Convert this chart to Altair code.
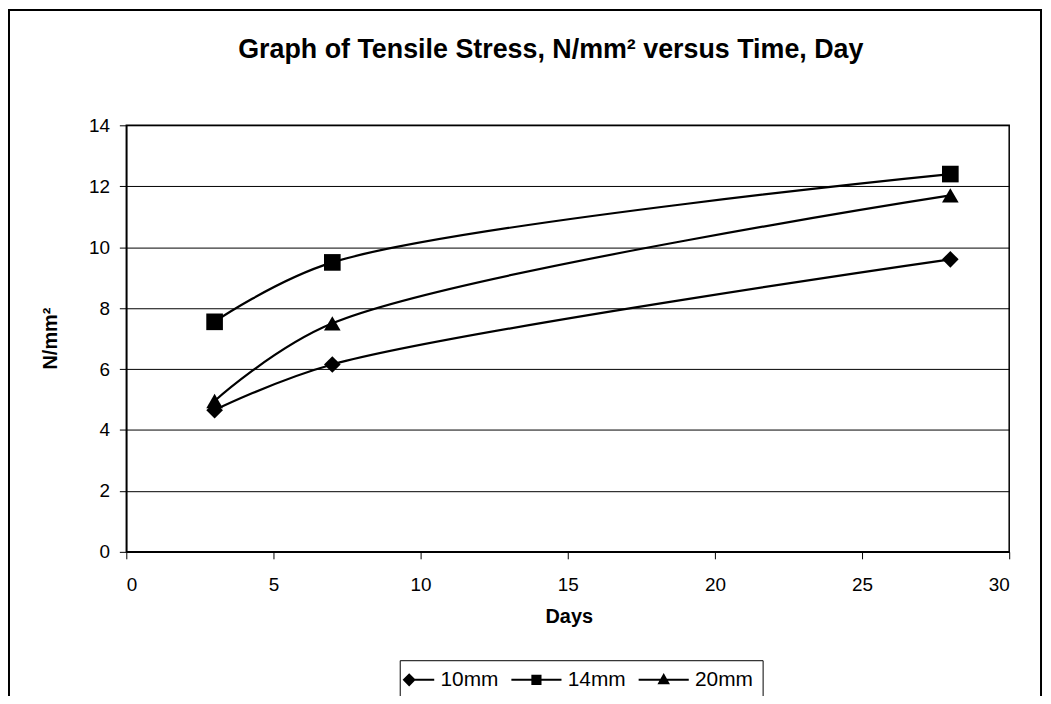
import altair as alt
import pandas as pd

days = [3, 7, 28]
series_names = ["10mm", "14mm", "20mm"]
s10 = [4.65, 6.15, 9.6]
s14 = [7.55, 9.5, 12.4]
s20 = [4.95, 7.5, 11.7]
x_ticks = [0, 5, 10, 15, 20, 25, 30]
y_ticks = [0, 2, 4, 6, 8, 10, 12, 14]

rows = []
for name, vals in zip(series_names, [s10, s14, s20]):
    for d, v in zip(days, vals):
        rows.append({"Days": d, "Stress": v, "Series": name})
df = pd.DataFrame(rows)

FONT = "Liberation Sans"

x_enc = alt.X("Days:Q", scale=alt.Scale(domain=[0, 30], nice=False),
              axis=alt.Axis(values=x_ticks, title="Days", grid=False,
                            titleX=445, titleY=71, titleBaseline="alphabetic",
                            titleFontSize=20,
                            labelPadding=17, tickSize=7))
y_enc = alt.Y("Stress:Q", scale=alt.Scale(domain=[0, 14], nice=False),
              axis=alt.Axis(values=y_ticks, title="N/mm²", grid=True,
                            titleX=-70, titleY=214, titleAngle=-90,
                            titleBaseline="alphabetic", titleAlign="center",
                            titleFontSize=20,
                            labelPadding=10, tickSize=7))

base = alt.Chart(df)

lines = base.mark_line(color="black", strokeWidth=2.2, interpolate="catmull-rom").encode(
    x=x_enc, y=y_enc, detail="Series:N")

points = base.mark_point(filled=True, color="black", opacity=1, size=280).encode(
    x=x_enc, y=y_enc,
    shape=alt.Shape("Series:N",
                    scale=alt.Scale(domain=series_names,
                                    range=["diamond", "square", "triangle-up"]),
                    legend=None))

# legend glyphs: a short line segment (thin filled bar) through the marker
legend_paths = [
    "M0,-0.17L4.2,-0.17L4.2,0.17L0,0.17ZM-1.1,0L0,-1.1L1.1,0L0,1.1Z",
    "M-4.2,-0.17L4.2,-0.17L4.2,0.17L-4.2,0.17ZM-0.85,-0.85L0.85,-0.85L0.85,0.85L-0.85,0.85Z",
    "M-4.2,-0.17L4.2,-0.17L4.2,0.17L-4.2,0.17ZM0,-1.15L1.05,0.75L-1.05,0.75Z",
]

legend_layer = base.transform_filter("false").mark_point(
    filled=True, color="black", opacity=1, size=144).encode(
    x=x_enc, y=y_enc,
    shape=alt.Shape("Series:N",
                    scale=alt.Scale(domain=series_names, range=legend_paths),
                    legend=alt.Legend(
                        title=None, orient="none", legendX=275, legendY=538,
                        direction="horizontal", columns=3,
                        labelFontSize=21, labelFont=FONT, labelColor="black",
                        symbolOffset=-10, labelOffset=21, columnPadding=9,
                        symbolFillColor="black", symbolSize=144,
                        strokeColor="black", fillColor="white", padding=9)))

frame = alt.Chart(pd.DataFrame({"k": [0]})).mark_rect(
    fill=None, stroke="black", strokeWidth=2).encode(
    x=alt.value(-118), x2=alt.value(920), y=alt.value(-116), y2=alt.value(700))

chart = alt.layer(frame, lines, points, legend_layer).resolve_scale(
    shape="independent"
).properties(
    width=888, height=429,
    background="white",
    autosize=alt.AutoSizeParams(type="none"),
    padding={"left": 119, "top": 116, "right": 34, "bottom": 143},
    title=alt.Title("Graph of Tensile Stress, N/mm² versus Time, Day",
                    fontSize=27, fontWeight="bold", font=FONT, color="black",
                    anchor="middle", frame="group", offset=0, dy=76, dx=-17,
                    baseline="alphabetic"),
).configure_view(stroke="black", strokeWidth=1.5).configure_axis(
    labelFont=FONT, labelFontSize=19, labelColor="black",
    titleFont=FONT, titleFontWeight="bold", titleColor="black",
    domainColor="black", domainWidth=1.5, tickColor="black", tickWidth=1,
    gridColor="black", gridWidth=1, gridOpacity=1,
)

chart.save("out.html", embed_options={"renderer": "svg", "actions": False})
